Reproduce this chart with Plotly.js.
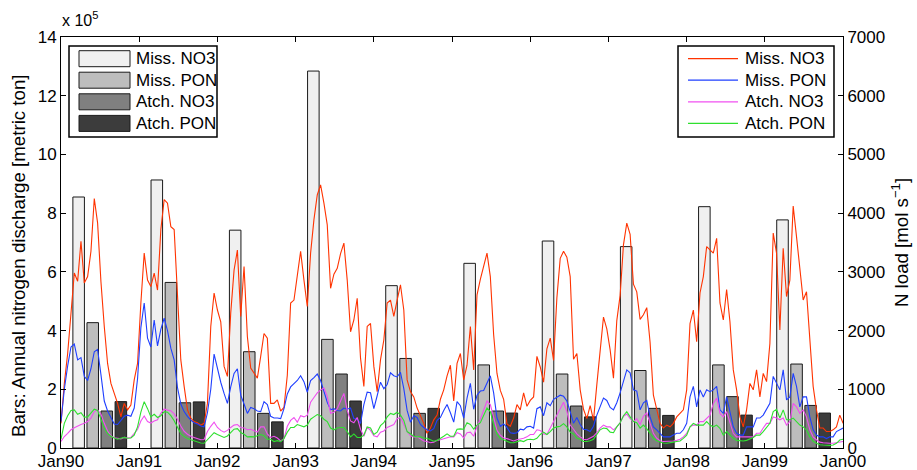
<!DOCTYPE html>
<html><head><meta charset="utf-8">
<script src="https://cdn.plot.ly/plotly-3.0.1.min.js"></script>
<style>html,body{margin:0;padding:0;background:#fff}#chart{width:917px;height:470px}</style>
</head><body><div id="chart"></div>
<script>
// ---------------- DATA ----------------
const years = [1990,1991,1992,1993,1994,1995,1996,1997,1998,1999];
const barNames = ['Miss. NO3','Miss. PON','Atch. NO3','Atch. PON'];
// annual discharge, metric ton
const missNO3Bars = [855000, 913000, 742000, 1284000, 553000, 629000, 705000, 686000, 822000, 777000];
const missPONBars = [427000, 564000, 328000, 370000, 305000, 283000, 252000, 264000, 283000, 286000];
const atchNO3Bars = [126000, 154000, 118000, 252000, 118000, 126000, 143000, 135000, 175000, 145000];
const atchPONBars = [158000, 157000, 89000, 160000, 135000, 119000, 106000, 111000, 112000, 119000];

const lineNames = ['Miss. NO3','Miss. PON','Atch. NO3','Atch. PON'];
// N load [mol/s], sampled every 1/23.5 year from 1 Jan 1990
const missNO3Load = [
420,1100,1610,2300,2980,2840,3520,2810,2920,3350,
4250,3830,2830,2070,1440,1100,930,760,530,760,
650,730,1160,1440,2470,3320,2860,2750,2980,2690,
3720,4230,4170,3770,3720,2580,1500,1050,650,510,
450,430,390,420,760,2070,2640,2350,2150,1390,
1220,2300,3030,3370,2240,3090,1900,1360,1270,
1190,1560,1950,1870,760,760,820,630,690,1240,
2470,2520,2950,3350,2860,2410,3320,3890,4310,4480,
4170,3800,2720,2960,3060,3310,3490,2860,1980,2180,
2550,1530,1050,2070,2120,1390,960,1500,1840,2470,
2520,2240,2520,2780,2350,1160,960,870,680,560,
420,250,340,480,560,830,990,1230,1410,
800,1440,1610,1160,1410,2070,1330,2610,2870,3120,
3320,2920,1930,1270,980,830,410,370,510,740,
650,940,710,810,870,1560,1380,1120,1690,1870,
1490,2560,3230,3350,3250,2920,1510,1610,990,660,
500,720,470,1080,1660,2230,2030,1670,1190,2170,
2600,3460,3830,3640,2790,2660,2190,2270,2390,
1800,900,650,420,340,390,360,420,530,590,
650,990,2120,2350,1810,2640,2920,3430,3370,3320,
3570,2470,2180,2700,2150,1330,990,530,360,650,
1100,990,1330,870,1270,1130,1780,3660,3320,2010,
3400,2580,2860,4120,3600,3000,2520,2660,1780,1050,
650,340,340,280,280,310,360,560,420];

const missPONLoad = [
450,1000,1400,1720,1770,1500,1540,1220,1150,1350,
1640,1680,1250,800,630,510,410,400,470,540,
560,540,680,1180,2050,2470,1870,1720,2180,1740,
2020,2210,2000,1700,1500,1030,750,620,540,475,
430,410,375,360,600,1000,1600,1350,1120,930,
760,1040,1270,1350,900,750,590,690,670,
630,620,790,740,540,510,510,500,670,920,
1040,1100,1150,1230,1130,950,1150,1200,1260,1150,
950,780,650,670,640,630,680,660,680,500,
490,420,740,950,940,670,890,1120,1010,1080,
1280,1230,1210,1290,1010,640,440,550,520,400,
350,310,290,330,470,520,640,740,600,
440,790,720,510,850,1100,660,900,970,980,
1120,1230,940,510,370,410,350,260,250,260,
320,310,360,370,340,670,700,550,770,720,
830,860,900,880,800,620,420,520,400,320,
310,280,370,560,720,850,810,690,650,770,
940,1120,1330,1280,990,970,650,770,810,
530,360,310,250,190,190,190,220,250,250,
310,420,870,1050,700,990,870,990,960,990,
1050,650,590,870,590,360,250,220,220,360,
360,360,510,510,560,650,760,1220,1100,990,
1330,820,870,1270,1050,700,870,870,530,310,
220,190,190,160,190,190,280,310,340];

const atchNO3Load = [
110,195,250,310,345,380,400,420,450,510,
620,650,580,420,290,210,175,165,155,180,
170,180,250,315,460,545,450,425,460,480,
590,665,645,635,580,490,375,285,235,200,
180,160,140,145,280,370,440,350,300,270,
300,350,390,400,350,340,310,320,290,
270,360,360,240,180,200,170,120,160,370,
470,520,440,550,530,560,780,860,940,990,
1020,880,590,610,670,800,930,640,460,430,
520,320,200,350,300,210,190,270,290,350,
370,400,500,520,400,280,210,190,190,150,
120,110,90,100,130,140,160,180,190,
190,260,240,170,260,270,200,370,490,640,
800,740,510,300,220,170,160,140,120,140,
150,165,190,230,230,310,300,240,230,340,
430,550,660,780,620,390,320,240,190,150,
140,165,200,260,340,390,360,360,310,360,
430,540,580,500,450,500,400,540,600,
420,250,165,125,110,110,110,120,130,150,
190,250,360,390,390,450,450,510,560,760,
850,590,530,620,420,250,190,190,190,190,
190,190,250,250,340,420,420,530,510,480,
510,390,450,760,700,590,650,530,310,190,
140,100,90,80,80,80,90,100,110];

const atchPONLoad = [
150,420,550,640,650,575,600,525,530,590,
660,640,490,340,250,200,170,150,165,180,
165,170,220,360,610,790,670,530,575,520,
550,620,610,550,465,350,245,195,160,140,
120,105,85,80,140,200,260,230,205,180,
205,270,320,330,265,235,190,193,190,
210,230,210,150,150,110,125,110,160,270,
350,350,400,380,360,390,490,530,570,550,
490,450,340,310,340,350,350,280,190,240,
180,180,220,360,340,230,270,380,430,530,
590,570,610,560,470,280,240,200,190,190,
170,165,140,115,130,160,200,240,200,
200,320,325,320,430,400,320,390,430,550,
680,620,400,240,160,140,110,90,90,110,
125,110,140,150,140,165,230,270,230,280,
340,360,370,415,360,270,240,165,150,110,
110,125,150,230,310,340,330,270,260,360,
430,550,620,530,450,430,340,390,330,
250,165,125,100,85,80,85,100,110,120,
165,220,360,420,390,390,390,450,390,360,
390,335,220,280,220,165,130,120,120,130,
150,180,220,220,280,360,420,620,660,510,
650,480,480,510,450,390,360,305,190,115,
80,55,50,45,45,50,80,135,150];

const leftTickVals = [0,200000,400000,600000,800000,1000000,1200000,1400000];
const rightTickVals = [0,1000,2000,3000,4000,5000,6000,7000];
const leftTitle = 'Bars: Annual nitrogen discharge [metric ton]';
const rightTitle = 'N load [mol s<sup>\u22121</sup>]';

// ---------------- STYLE ----------------
const FONT = 'Liberation Sans, Arial, Helvetica, sans-serif';
const barColors = ['#f0f0f0','#bdbdbd','#808080','#3c3c3c'];
const lineColors = ['#ff3300','#1f3fff','#f050f0','#2ee02e'];
const W = 917, H = 470, M = {l:61, r:74, t:37, b:22};
const plotW = W - M.l - M.r, plotH = H - M.t - M.b;
const px = x => (x - M.l) / plotW;
const py = y => (H - M.b - y) / plotH;

const START = Date.UTC(1990,0,1);
const STEP_MS = 365.25 / 23.5 * 86400000;
const fmt = ms => new Date(ms).toISOString().slice(0,19).replace('T',' ');
const sampleDates = n => Array.from({length:n}, (_, i) => fmt(START + i*STEP_MS));
const barX = years.map(y => y + '-07-01');

const barSeries = [missNO3Bars, missPONBars, atchNO3Bars, atchPONBars];
const lineSeries = [missNO3Load, missPONLoad, atchNO3Load, atchPONLoad];

const traces = [];
barSeries.forEach((vals, k) => traces.push({
  type:'bar', x: barX, y: vals, name: barNames[k], xaxis:'x', yaxis:'y',
  marker:{color: barColors[k], line:{color:'#1a1a1a', width:1}},
  showlegend:false, hoverinfo:'skip'
}));
lineSeries.forEach((vals, k) => traces.push({
  type:'scatter', mode:'lines', x: sampleDates(vals.length), y: vals, name: lineNames[k],
  xaxis:'x', yaxis:'y2', line:{color: lineColors[k], width:1.1}, showlegend:false, hoverinfo:'skip'
}));

// custom legends (MATLAB style)
const shapes = [], annotations = [];
const rowsY = [58.7, 80.2, 101.8, 123.4];
shapes.push({type:'rect', xref:'paper', yref:'paper', x0:px(69), x1:px(217), y0:py(137), y1:py(46),
  line:{color:'#000', width:1.5}, fillcolor:'#fff', layer:'above'});
shapes.push({type:'rect', xref:'paper', yref:'paper', x0:px(678), x1:px(834), y0:py(137), y1:py(46),
  line:{color:'#000', width:1.5}, fillcolor:'#fff', layer:'above'});
rowsY.forEach((cy, k) => {
  shapes.push({type:'rect', xref:'paper', yref:'paper', x0:px(79), x1:px(130), y0:py(cy+8), y1:py(cy-8),
    line:{color:'#1a1a1a', width:1}, fillcolor: barColors[k], layer:'above'});
  annotations.push({xref:'paper', yref:'paper', x:px(134), y:py(cy), xanchor:'left', yanchor:'middle',
    text: barNames[k], showarrow:false, font:{family:FONT, size:17, color:'#000'}});
  shapes.push({type:'line', xref:'paper', yref:'paper', x0:px(688), x1:px(738), y0:py(cy), y1:py(cy),
    line:{color: lineColors[k], width:1.2}, layer:'above'});
  annotations.push({xref:'paper', yref:'paper', x:px(743), y:py(cy), xanchor:'left', yanchor:'middle',
    text: lineNames[k], showarrow:false, font:{family:FONT, size:17, color:'#000'}});
});
annotations.push({xref:'paper', yref:'paper', x:px(60), y:py(31), xanchor:'left', yanchor:'bottom',
  text:'x 10<sup>5</sup>', showarrow:false, font:{family:FONT, size:16, color:'#000'}});
// left axis title (rotated), placed as in the reference
annotations.push({xref:'paper', yref:'paper', x:px(18), y:py(256), xanchor:'center', yanchor:'middle',
  textangle:-90, text:leftTitle, showarrow:false, font:{family:FONT, size:18.7, color:'#000'}});

const axisCommon = {showline:true, linecolor:'#000', linewidth:1, ticks:'inside', ticklen:5,
  tickcolor:'#000', showgrid:false, zeroline:false, automargin:false,
  tickfont:{family:FONT, size:17, color:'#000'}};

const layout = {
  width:W, height:H, margin:M, paper_bgcolor:'#fff', plot_bgcolor:'#fff',
  font:{family:FONT, size:17, color:'#000'},
  barmode:'group', bargap:0.28, bargroupgap:0.18, showlegend:false,
  xaxis: Object.assign({}, axisCommon, {type:'date', range:['1990-01-01','2000-01-01'],
    tick0:'1990-01-01', dtick:'M12', tickformat:'%b%y', mirror:'ticks', ticklabelstandoff:-2}),
  yaxis: Object.assign({}, axisCommon, {range:[0,1400000], tickvals:leftTickVals,
    ticktext:leftTickVals.map(v => String(v/1e5)), mirror:false}),
  yaxis2: Object.assign({}, axisCommon, {overlaying:'y', side:'right', range:[0,7000],
    tickvals:rightTickVals,
    title:{text:rightTitle, font:{family:FONT, size:18.7}, standoff:10}}),
  shapes: shapes, annotations: annotations
};

Plotly.newPlot('chart', traces, layout, {displayModeBar:false, staticPlot:true});
</script></body></html>
